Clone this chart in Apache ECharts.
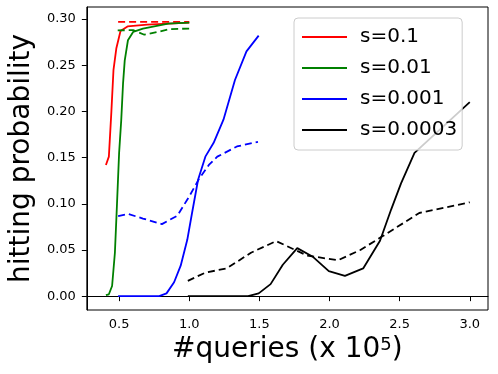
<!DOCTYPE html>
<html>
<head>
<meta charset="utf-8">
<script src="https://cdn.jsdelivr.net/npm/echarts@6/dist/echarts.min.js"></script>
<style>
  html, body { margin: 0; padding: 0; background: #fff; }
  #chart { width: 498px; height: 374px; }
</style>
</head>
<body>
<div id="chart"></div>
<script>
// legend names
const names = ['s=0.1', 's=0.01', 's=0.001', 's=0.0003'];
const colors = ['#ff0000', '#008000', '#0000ff', '#000000'];

// tick labels
const xTicks = [0.5, 1.0, 1.5, 2.0, 2.5, 3.0];
const yTicks = [0, 0.05, 0.10, 0.15, 0.20, 0.25, 0.30];

// s=0.1
const redX = [0.406, 0.427, 0.445, 0.46, 0.48, 0.51, 0.56, 0.7, 0.85, 1.0];
const redY = [0.142, 0.151, 0.2, 0.245, 0.268, 0.287, 0.292, 0.294, 0.295, 0.296];
const redDashX = [0.493, 0.7, 1.0];
const redDashY = [0.297, 0.297, 0.297];

// s=0.01
const greenX = [0.406, 0.427, 0.45, 0.47, 0.485, 0.5, 0.515, 0.528, 0.54, 0.563, 0.6, 0.67, 0.85, 1.0];
const greenY = [0.001, 0.002, 0.011, 0.047, 0.1, 0.155, 0.19, 0.23, 0.255, 0.277, 0.286, 0.2895, 0.295, 0.296];
const greenDashX = [0.49, 0.6, 0.68, 0.775, 0.857, 1.0];
const greenDashY = [0.2877, 0.288, 0.283, 0.286, 0.289, 0.2897];

// s=0.001
const blueX = [0.493, 0.786, 0.838, 0.892, 0.939, 0.986, 1.02, 1.063, 1.115, 1.174, 1.244, 1.326, 1.408, 1.495];
const blueY = [0, 0, 0.003, 0.015, 0.033, 0.061, 0.09, 0.126, 0.151, 0.166, 0.191, 0.234, 0.265, 0.282];
const blueDashX = [0.493, 0.563, 0.67, 0.805, 0.915, 1.0, 1.07, 1.14, 1.2, 1.34, 1.49];
const blueDashY = [0.0866, 0.089, 0.084, 0.078, 0.087, 0.108, 0.127, 0.142, 0.151, 0.162, 0.167];

// s=0.0003
const blackX = [0.99, 1.42, 1.495, 1.58, 1.667, 1.77, 1.878, 1.995, 2.11, 2.24, 2.36, 2.44, 2.51, 2.606, 3.0];
const blackY = [0, 0, 0.003, 0.013, 0.034, 0.052, 0.043, 0.027, 0.022, 0.030, 0.06, 0.094, 0.122, 0.155, 0.21];
const blackDashX = [0.99, 1.115, 1.267, 1.44, 1.62, 1.84, 2.06, 2.22, 2.38, 2.64, 3.0];
const blackDashY = [0.0165, 0.0255, 0.030, 0.047, 0.0596, 0.044, 0.0388, 0.05, 0.065, 0.09, 0.1016];

const zip = (xs, ys) => xs.map((x, i) => [x, ys[i]]);

const solid = [zip(redX, redY), zip(greenX, greenY), zip(blueX, blueY), zip(blackX, blackY)];
const dashed = [zip(redDashX, redDashY), zip(greenDashX, greenDashY), zip(blueDashX, blueDashY), zip(blackDashX, blackDashY)];

const font = 'DejaVu Sans';
const series = [];
names.forEach((n, i) => {
  series.push({
    name: n, type: 'line', data: solid[i], symbol: 'none',
    lineStyle: { color: colors[i], width: 1.8 }, itemStyle: { color: colors[i] }
  });
  series.push({
    name: n + ' (dashed)', type: 'line', data: dashed[i], symbol: 'none',
    lineStyle: { color: colors[i], width: 1.8, type: [7, 4] }, itemStyle: { color: colors[i] }
  });
});

const chart = echarts.init(document.getElementById('chart'));
chart.setOption({
  animation: false,
  backgroundColor: '#fff',
  grid: { left: 85, right: 10, top: 7, bottom: 64, show: true, borderColor: '#000', borderWidth: 1 },
  legend: {
    data: names, orient: 'vertical', left: 294, top: 18,
    icon: 'rect', itemWidth: 45, itemHeight: 2, itemGap: 11,
    padding: [9, 5, 10, 8],
    borderColor: '#ccc', borderWidth: 1, borderRadius: 4,
    backgroundColor: 'rgba(255,255,255,0.8)',
    textStyle: { fontFamily: font, fontSize: 20, color: '#000', padding: [0, 0, 0, 8] }
  },
  xAxis: {
    type: 'value', min: 0.27, max: 3.13,
    name: '#queries (x 10{sup|5})', nameLocation: 'middle', nameGap: 22,
    nameTextStyle: {
      fontFamily: font, fontSize: 28, color: '#000',
      rich: { sup: { fontFamily: font, fontSize: 18, verticalAlign: 'top', padding: [0, 0, 10, 0] } }
    },
    splitLine: { show: false },
    axisLine: { show: true, lineStyle: { color: '#000' } },
    axisTick: { show: true, length: 5, lineStyle: { color: '#000' }, customValues: xTicks },
    axisLabel: {
      customValues: xTicks, margin: 8, color: '#000', fontFamily: font, fontSize: 13,
      formatter: v => v.toFixed(1)
    }
  },
  yAxis: {
    type: 'value', min: -0.015, max: 0.313,
    name: 'hitting probability', nameLocation: 'middle', nameGap: 46,
    nameTextStyle: { fontFamily: font, fontSize: 28, color: '#000' },
    splitLine: { show: false },
    axisLine: { show: true, lineStyle: { color: '#000' } },
    axisTick: { show: true, length: 5, lineStyle: { color: '#000' }, customValues: yTicks },
    axisLabel: {
      customValues: yTicks, margin: 11, color: '#000', fontFamily: font, fontSize: 13,
      formatter: v => v.toFixed(2)
    }
  },
  series: series
});
</script>
</body>
</html>
